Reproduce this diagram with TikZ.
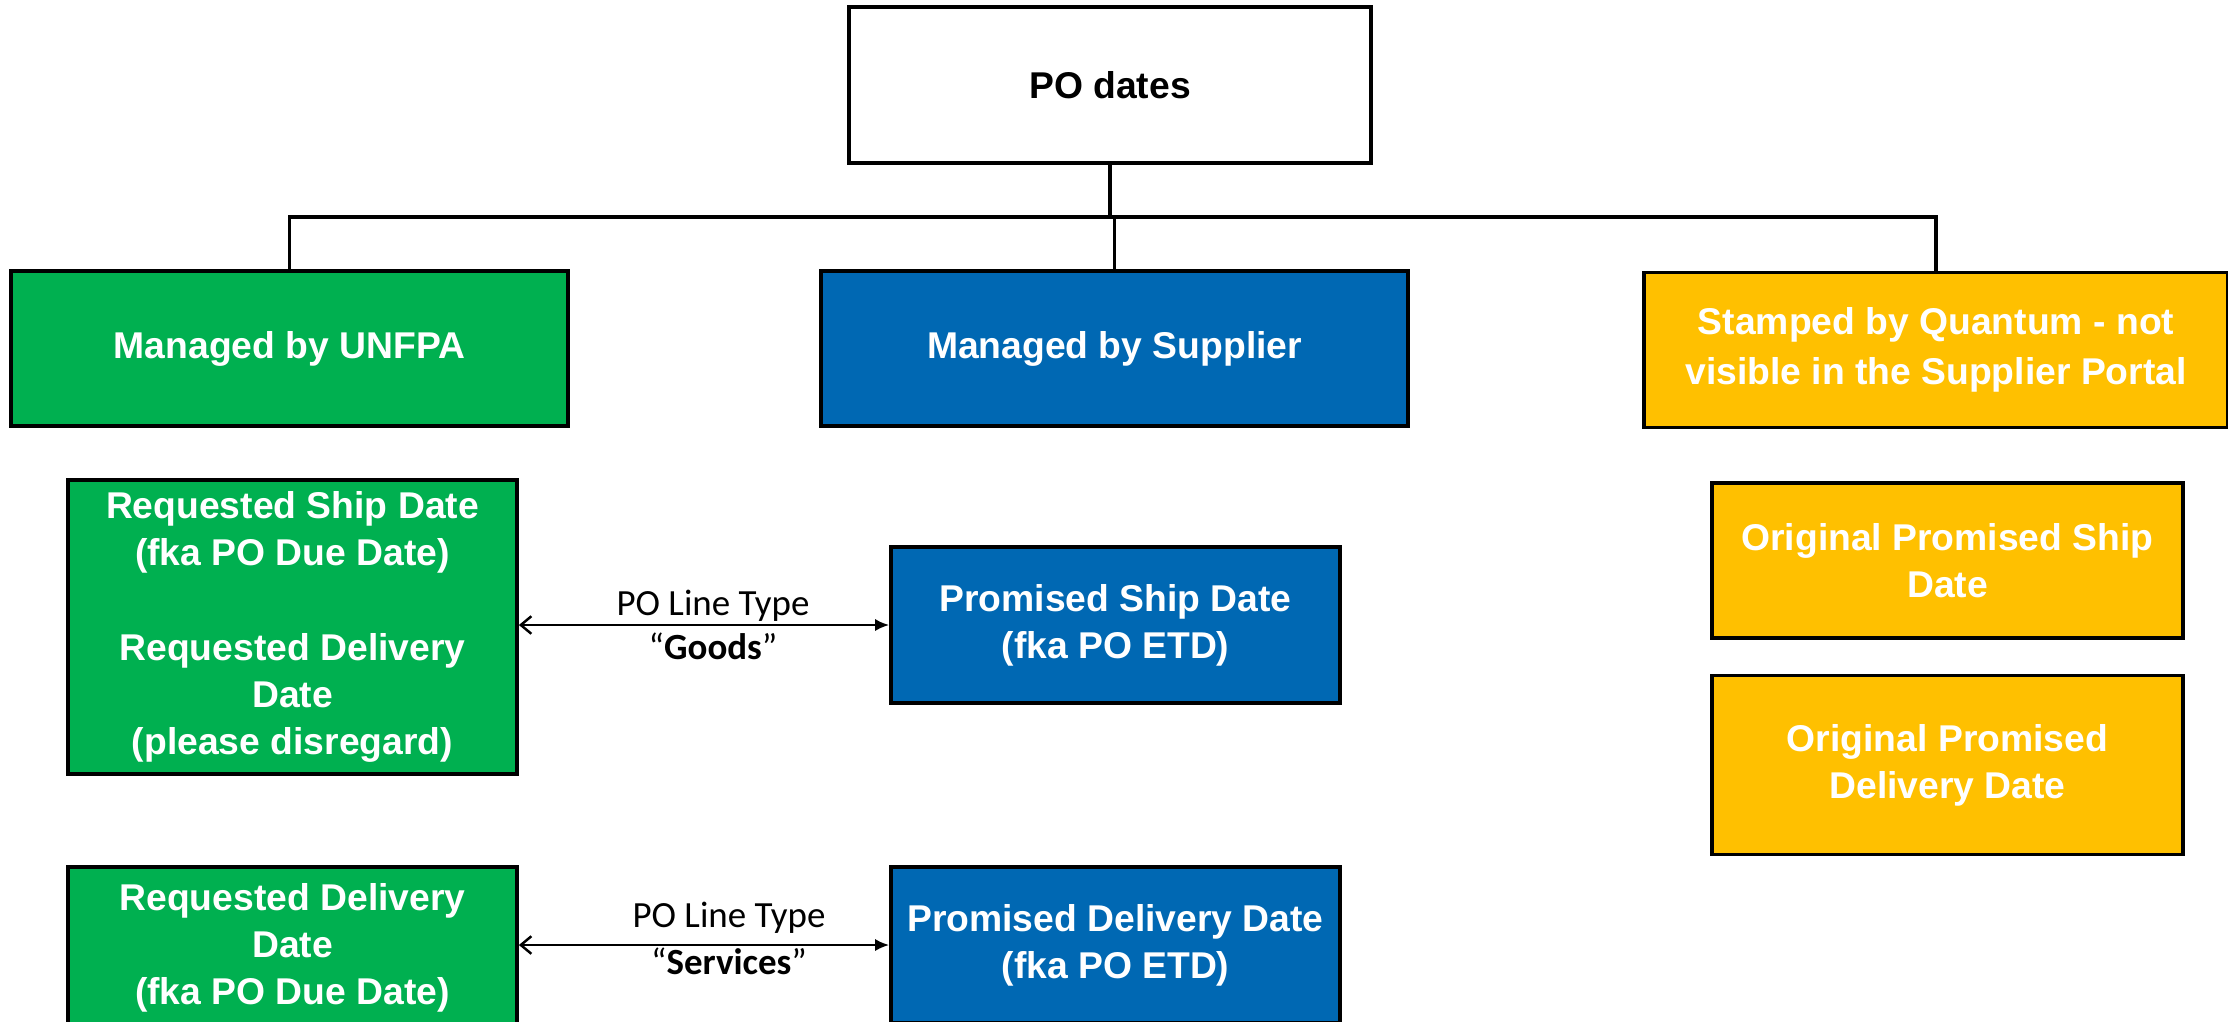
\documentclass[tikz,border=0pt]{standalone}
\usepackage{fontspec}
\setmainfont{Liberation Sans}
\newfontfamily\calib{Carlito}
\usetikzlibrary{arrows.meta}
\definecolor{cgreen}{HTML}{00B050}
\definecolor{cblue}{HTML}{0068B3}
\definecolor{cyellow}{HTML}{FFC000}
\tikzset{
  box/.style={draw=black, line width=1pt, align=center, inner sep=2pt,
    font={\fontsize{10.6}{13.4}\selectfont\bfseries}, text=white},
  gbox/.style={box, fill=cgreen},
  bbox/.style={box, fill=cblue},
  ybox/.style={box, fill=cyellow},
  wbox/.style={box, fill=white, text=black},
  conn/.style={draw=black, line width=1.1pt},
  arr/.style={draw=black, line width=0.7pt, {Straight Barb[length=3pt,width=5pt]}-{Latex[length=4pt,width=3.5pt]}},
  lbl/.style={font={\calib\fontsize{10.5}{12}\selectfont}, inner sep=0pt, anchor=base}
}
\begin{document}
\begin{tikzpicture}[x=0.01cm,y=-0.01cm]
\path[use as bounding box] (0,0) rectangle (2228,1021);
\clip (0,0) rectangle (2228,1021);

\node[wbox, minimum width=5.22cm, minimum height=1.56cm] (po) at (1110,85) {PO dates};

\node[gbox, minimum width=5.57cm, minimum height=1.55cm] (hU) at (289.5,348.5) {Managed by UNFPA};
\node[bbox, minimum width=5.87cm, minimum height=1.55cm] (hS) at (1114.5,348.5) {Managed by Supplier};
\node[ybox, minimum width=5.84cm, minimum height=1.55cm, font={\fontsize{10.6}{14.2}\selectfont\bfseries}] (hQ) at (1936,350) {Stamped by Quantum - not\\visible in the Supplier Portal};

\node[gbox, minimum width=4.49cm, minimum height=2.94cm] (g1) at (292.5,627)
  {Requested Ship Date\\(fka PO Due Date)\\[13.4pt]Requested Delivery\\Date\\(please disregard)};
\node[bbox, minimum width=4.49cm, minimum height=1.56cm] (b1) at (1115.5,625)
  {Promised Ship Date\\(fka PO ETD)};

\node[ybox, minimum width=4.71cm, minimum height=1.55cm] (y1) at (1947.5,560.5)
  {Original Promised Ship\\Date};
\node[ybox, minimum width=4.71cm, minimum height=1.79cm] (y2) at (1947.5,765)
  {Original Promised\\Delivery Date};

\node[gbox, minimum width=4.49cm, minimum height=1.62cm] (g2) at (292.5,948)
  {Requested Delivery\\Date\\(fka PO Due Date)};
\node[bbox, minimum width=4.49cm, minimum height=1.56cm] (b2) at (1115.5,945)
  {Promised Delivery Date\\(fka PO ETD)};

\coordinate (bus) at (1110,217);
\draw[conn] (po.south) -- (bus);
\draw[conn] (bus) -| (hU.north);
\draw[conn] (bus) -| (hQ.north);
\draw[conn] (bus) -| (hS.north);

\draw[arr] (b1.west -| g1.east) -- (b1.west);
\node[lbl] (l1a) at (713,615) {PO Line Type};
\node[lbl] (l1b) at (713,659) {“\textbf{Goods}”};

\draw[arr] (b2.west -| g2.east) -- (b2.west);
\node[lbl] (l2a) at (729,927) {PO Line Type};
\node[lbl] (l2b) at (729,974) {“\textbf{Services}”};
\end{tikzpicture}
\end{document}
